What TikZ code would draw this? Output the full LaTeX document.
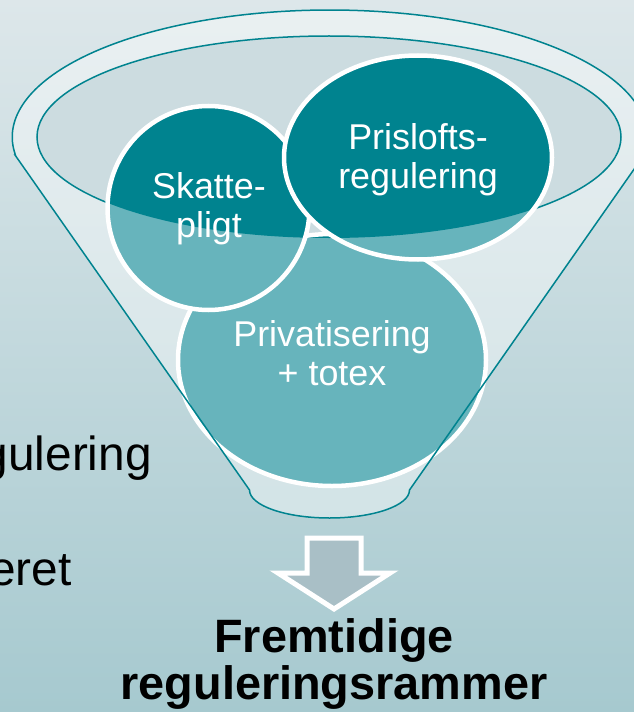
\documentclass[tikz,border=0pt]{standalone}
\usepackage{fontspec}
\setmainfont{Liberation Sans}
\usepackage{xcolor}
\usetikzlibrary{positioning,calc}
\definecolor{bgtop}{HTML}{DDE7EA}
\definecolor{bgbot}{HTML}{A6C9CF}
\definecolor{tealdark}{HTML}{00838F}
\definecolor{teallite}{HTML}{67B4BC}
\definecolor{funrim}{HTML}{CCDCE0}
\definecolor{arrfill}{HTML}{A9BFC6}

\begin{document}
\begin{tikzpicture}[x=1bp,y=-1bp,
	funline/.style={draw=tealdark,line width=1.5bp},
	ring/.style={draw=white,line width=4.5bp},
	lbl/.style={text=white,align=center,inner sep=0pt,font=\fontsize{36}{39}\selectfont},
	back text/.style={anchor=base east,inner sep=0pt,font=\fontsize{48}{52}\selectfont},
	main text/.style={align=center,inner sep=0pt,font=\bfseries\fontsize{47}{48}\selectfont}]

    \useasboundingbox (0,0) rectangle (634,712);
    \clip (0,0) rectangle (634,712);
    \shade[top color=bgtop,bottom color=bgbot] (0,0) rectangle (634,712);

    \node[back text] (Reg) at (152,470) {gulering};
    \node[back text] (Ere) at (72,585) {eret};

    % funnel body and rim
    \fill[white,opacity=.4] (15,155) -- (249.5,490)
	arc[start angle=180,end angle=0,x radius=80,y radius=28] -- (644,155)
	arc[start angle=8.15,end angle=-188.15,x radius=317.5,y radius=127] -- cycle;
    \path[fill=funrim,funline] (329,137) ellipse [x radius=292,y radius=101];

    \foreach \cx/\cy/\rx/\ry in {332/360/154/126, 208.5/208/101/102, 418/157.5/134/102}{
	\fill[teallite] (\cx,\cy) ellipse [x radius=\rx,y radius=\ry];
	\begin{scope}
	    \clip (329,137) ellipse [x radius=292,y radius=101];
	    \fill[tealdark] (\cx,\cy) ellipse [x radius=\rx,y radius=\ry];
	\end{scope}
	\draw[ring] (\cx,\cy) ellipse [x radius=\rx,y radius=\ry];
    }

    \node[lbl] (Skat) at (209,209) {Skatte-\\pligt};
    \node[lbl] (Pris) at (418,160) {Prislofts-\\regulering};
    \node[lbl] (Priv) at (332,353) {Privatisering\\+ totex};

    \draw[funline] (15,155) -- (249.5,490)
	arc[start angle=180,end angle=0,x radius=80,y radius=28] -- (644,155)
	arc[start angle=8.15,end angle=-188.15,x radius=317.5,y radius=127] -- cycle;

    % arrow and result
    \coordinate (tip) at (334,609);
    \draw[white,line width=5bp,fill=arrfill] (tip) -- ++(56,-36) -- ++(-29,0) -- ++(0,-35)
	-- ++(-54,0) -- ++(0,35) -- ++(-29,0) -- cycle;
    \node[main text] (Frem) [below=9bp of tip] {Fremtidige\\reguleringsrammer};

\end{tikzpicture}
\end{document}
